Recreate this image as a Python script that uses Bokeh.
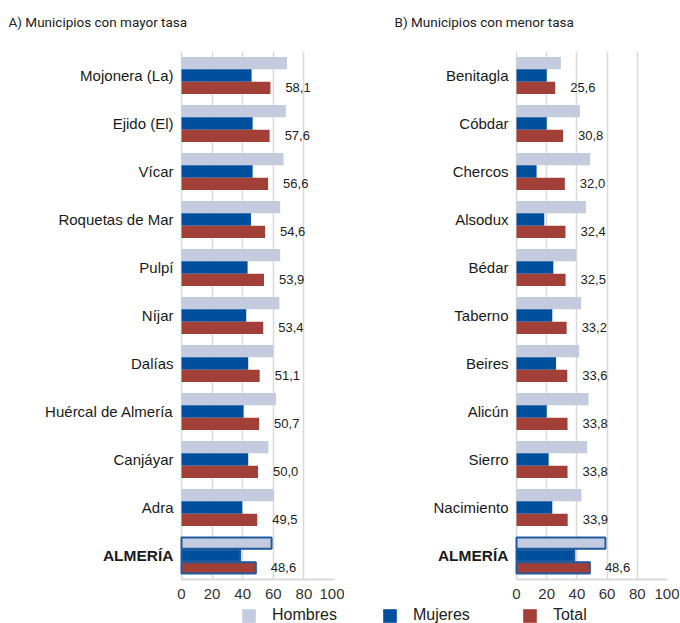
from bokeh.plotting import figure
from bokeh.models import (ColumnDataSource, FactorRange, Range1d, Legend, LegendItem, Title)
from bokeh.transform import dodge
from bokeh.layouts import column, row
from bokeh.core.properties import value
from bokeh.embed import file_html
from bokeh.resources import INLINE

# ---------------- data ----------------
cats_a = ["Mojonera (La)", "Ejido (El)", "Vícar", "Roquetas de Mar", "Pulpí", "Níjar",
          "Dalías", "Huércal de Almería", "Canjáyar", "Adra", "ALMERÍA"]
hombres_a = [68.9, 68.2, 66.7, 64.5, 64.5, 64.0, 60.0, 61.8, 56.8, 60.5, 58.9]
mujeres_a = [45.8, 46.5, 46.5, 45.4, 43.2, 42.3, 43.6, 40.6, 43.6, 39.7, 38.3]
total_a = [58.1, 57.6, 56.6, 54.6, 53.9, 53.4, 51.1, 50.7, 50.0, 49.5, 48.6]

cats_b = ["Benitagla", "Cóbdar", "Chercos", "Alsodux", "Bédar", "Taberno",
          "Beires", "Alicún", "Sierro", "Nacimiento", "ALMERÍA"]
hombres_b = [29.4, 42.0, 48.7, 46.0, 39.5, 42.8, 41.5, 47.7, 46.8, 43.0, 58.9]
mujeres_b = [20.0, 20.0, 13.3, 18.4, 24.4, 23.7, 26.2, 20.0, 21.3, 23.7, 38.3]
total_b = [25.6, 30.8, 32.0, 32.4, 32.5, 33.2, 33.6, 33.8, 33.8, 33.9, 48.6]

x_ticks = [0, 20, 40, 60, 80, 100]
series_names = ["Hombres", "Mujeres", "Total"]
highlight = "ALMERÍA"

# ---------------- styles ----------------
C_H = "#c4cbdf"
C_M = "#004f9c"
C_T = "#a23f37"
C_OUT = "#1f5c9f"
GRID = "#d9d9d9"
FONT = "Liberation Sans"
TITLE_FONT = "Roboto"


def panel(cats, h, m, t, title, x_lo, ml, fw, mr, title_offset):
    labels = [f"{v:.1f}".replace(".", ",") for v in t]
    styles = ["bold" if c == highlight else "normal" for c in cats]
    sizes = ["15.5px" if c == highlight else "15px" for c in cats]
    src = ColumnDataSource(dict(cat=cats, h=h, m=m, t=t, lab=labels,
                                style=styles, size=sizes))
    k = cats.index(highlight)
    hsrc = ColumnDataSource(dict(cat=[cats[k]], h=[h[k]], m=[m[k]], t=[t[k]]))

    # the frame also holds the category-name column, left of value 0
    p = figure(y_range=FactorRange(factors=list(reversed(cats))), x_range=Range1d(x_lo, 100),
               frame_width=fw, frame_height=528,
               min_border_left=ml, min_border_right=mr, min_border_top=51, min_border_bottom=0,
               toolbar_location=None, output_backend="svg")
    # spacer nearest the frame, then the visible title above it
    p.add_layout(Title(text=" ", text_font=TITLE_FONT, text_font_size="14px", standoff=2), "above")
    p.add_layout(Title(text=title, text_font=TITLE_FONT, text_font_size="13.5px",
                       text_font_style="normal", text_color="#222222", align="left",
                       vertical_align="top", offset=title_offset, standoff=0), "above")

    yr = p.y_range
    for field, dv, col in (("h", 0.258, C_H), ("m", 0.0, C_M), ("t", -0.258, C_T)):
        p.hbar(y=dodge("cat", dv, range=yr), left=0, right=field, height=0.258,
               fill_color=col, line_color=None, source=src)
        p.hbar(y=dodge("cat", dv, range=yr), left=0, right=field, height=0.238,
               fill_alpha=0, line_color=C_OUT, line_width=2, source=hsrc)

    # value labels of the Total bars
    p.text(x="t", y=dodge("cat", -0.258, range=yr), text="lab", source=src,
           x_offset=15, text_baseline="middle", text_align="left",
           text_font_size="13px", text_font=value(FONT), text_color="#222222")

    # category names, right-aligned just left of value 0
    p.text(x=0, y="cat", text="cat", source=src, x_offset=-8,
           text_align="right", text_baseline="middle", text_font=value(FONT),
           text_font_size="size", text_font_style="style", text_color="#1a1a1a")

    p.xaxis.ticker = x_ticks
    p.xaxis.bounds = (0, 100)
    p.xaxis.major_tick_line_color = None
    p.xaxis.major_tick_out = 0
    p.xaxis.major_tick_in = 0
    p.xaxis.minor_tick_line_color = None
    p.xaxis.axis_line_color = GRID
    p.xaxis.axis_line_width = 2
    p.xaxis.major_label_text_font = FONT
    p.xaxis.major_label_text_font_size = "15px"
    p.xaxis.major_label_text_color = "#333333"
    p.xaxis.major_label_standoff = 9
    p.yaxis.visible = False

    p.xgrid.ticker = x_ticks
    p.xgrid.grid_line_color = GRID
    p.xgrid.grid_line_width = 1.5
    p.ygrid.grid_line_color = None
    p.outline_line_color = None
    return p


pa = panel(cats_a, hombres_a, mujeres_a, total_a, "A) Municipios con mayor tasa",
           -113.07, 8, 326, 10, 0)
pb = panel(cats_b, hombres_b, mujeres_b, total_b, "B) Municipios con menor tasa",
           -84.1, 45, 278, 12, 5)

# legend strip (zero-size proxies carry the legend swatches)
pl = figure(width=679, height=23, x_range=FactorRange(factors=series_names), y_range=Range1d(0, 1),
            toolbar_location=None, output_backend="svg",
            x_axis_type=None, y_axis_type=None, min_border=0)
pl.grid.visible = False
pl.outline_line_color = None
items = []
for name, col in zip(series_names, (C_H, C_M, C_T)):
    r = pl.rect(x=[name], y=[0.5], width=0, height=0, fill_color=col, line_color=None)
    items.append(LegendItem(label=name, renderers=[r]))
leg = Legend(items=items, orientation="horizontal", location=(240, 0),
             glyph_width=17, glyph_height=17, label_standoff=15, label_width=64,
             label_height=17, spacing=44, padding=0, margin=0,
             border_line_color=None, background_fill_alpha=0,
             label_text_font=FONT, label_text_font_size="16px", label_text_color="#222222")
pl.add_layout(leg)

layout = column(row(pa, pb, spacing=0), pl, spacing=0)
open("out.html", "w").write(file_html(layout, INLINE))
